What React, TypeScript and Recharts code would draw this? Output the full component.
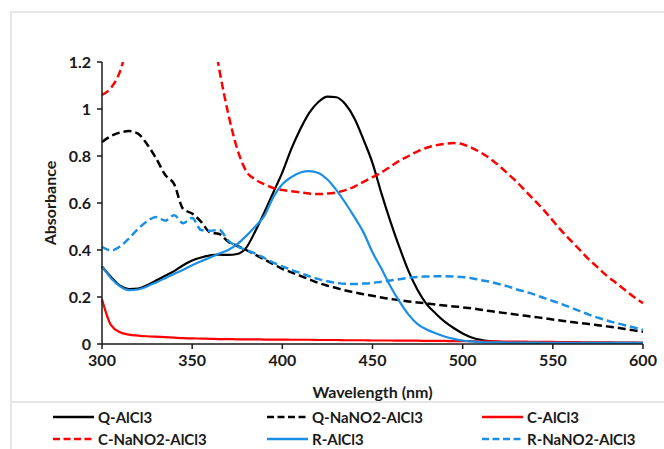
import React from "react";
import { LineChart, Line, XAxis, YAxis, Label } from "recharts";

// wavelength grid (nm), every 5 nm
const wavelengths = [
  300, 305, 310, 315, 320, 325, 330, 335, 340, 345, 350, 355, 360, 365, 370, 375, 380, 385, 390, 395,
  400, 405, 410, 415, 420, 425, 430, 435, 440, 445, 450, 455, 460, 465, 470, 475, 480, 485, 490, 495,
  500, 505, 510, 515, 520, 525, 530, 535, 540, 545, 550, 555, 560, 565, 570, 575, 580, 585, 590, 595, 600,
];

const qAlCl3 = [
  0.33, 0.285, 0.248, 0.234, 0.236, 0.25, 0.27, 0.29, 0.31, 0.335, 0.355, 0.368, 0.377, 0.38, 0.379, 0.383, 0.41, 0.48, 0.56, 0.645,
  0.73, 0.83, 0.915, 0.985, 1.03, 1.053, 1.05, 1.02, 0.96, 0.87, 0.77, 0.64, 0.52, 0.41, 0.31, 0.23, 0.17, 0.13, 0.095, 0.068,
  0.045, 0.028, 0.018, 0.012, 0.008, 0.007, 0.006, 0.006, 0.006, 0.005, 0.005, 0.005, 0.005, 0.005, 0.005, 0.005, 0.005, 0.005, 0.005, 0.005, 0.005,
];

const qNaNO2AlCl3 = [
  0.86, 0.885, 0.9, 0.906, 0.895, 0.85, 0.79, 0.72, 0.68, 0.575, 0.555, 0.52, 0.474, 0.468, 0.435, 0.418, 0.4, 0.38, 0.36, 0.34,
  0.32, 0.305, 0.29, 0.275, 0.26, 0.248, 0.238, 0.228, 0.22, 0.212, 0.205, 0.198, 0.192, 0.186, 0.181, 0.177, 0.173, 0.168, 0.164, 0.16,
  0.156, 0.152, 0.146, 0.14, 0.135, 0.13, 0.125, 0.12, 0.115, 0.11, 0.104, 0.099, 0.094, 0.089, 0.085, 0.08, 0.075, 0.07, 0.064, 0.058, 0.052,
];

const cAlCl3 = [
  0.19, 0.08, 0.05, 0.04, 0.036, 0.033, 0.031, 0.029, 0.027, 0.025, 0.024, 0.023, 0.022, 0.021, 0.021, 0.02, 0.02, 0.02, 0.019, 0.019,
  0.019, 0.018, 0.018, 0.018, 0.017, 0.017, 0.017, 0.016, 0.016, 0.016, 0.015, 0.015, 0.015, 0.014, 0.014, 0.014, 0.013, 0.013, 0.013, 0.012,
  0.012, 0.012, 0.011, 0.011, 0.011, 0.01, 0.01, 0.01, 0.009, 0.009, 0.009, 0.008, 0.008, 0.008, 0.007, 0.007, 0.007, 0.006, 0.006, 0.006, 0.005,
];

const cNaNO2AlCl3 = [
  1.06, 1.09, 1.16, 1.3, 1.45, 1.58, 1.68, 1.74, 1.76, 1.74, 1.68, 1.56, 1.4, 1.17, 0.98, 0.83, 0.735, 0.7, 0.68, 0.664,
  0.655, 0.65, 0.645, 0.64, 0.638, 0.64, 0.645, 0.655, 0.67, 0.69, 0.71, 0.73, 0.755, 0.78, 0.8, 0.82, 0.835, 0.845, 0.852, 0.855,
  0.85, 0.835, 0.815, 0.79, 0.76, 0.725, 0.69, 0.65, 0.61, 0.57, 0.525, 0.48, 0.44, 0.4, 0.36, 0.325, 0.29, 0.26, 0.23, 0.2, 0.174,
];

const rAlCl3 = [
  0.33, 0.28, 0.245, 0.229, 0.232, 0.245, 0.262, 0.28, 0.298, 0.316, 0.335, 0.352, 0.368, 0.385, 0.4, 0.425, 0.46, 0.5, 0.545, 0.625,
  0.68, 0.71, 0.73, 0.736, 0.728, 0.7, 0.655, 0.6, 0.54, 0.475, 0.39, 0.32, 0.245, 0.18, 0.125, 0.085, 0.062, 0.046, 0.032, 0.022,
  0.015, 0.011, 0.008, 0.007, 0.007, 0.006, 0.006, 0.006, 0.006, 0.005, 0.005, 0.005, 0.005, 0.005, 0.005, 0.005, 0.005, 0.005, 0.005, 0.005, 0.005,
];

const rNaNO2AlCl3 = [
  0.414, 0.398, 0.415, 0.45, 0.49, 0.522, 0.54, 0.525, 0.548, 0.514, 0.536, 0.485, 0.482, 0.485, 0.44, 0.415, 0.4, 0.385, 0.366, 0.346,
  0.33, 0.315, 0.302, 0.288, 0.276, 0.267, 0.26, 0.256, 0.255, 0.257, 0.26, 0.265, 0.27, 0.276, 0.281, 0.285, 0.287, 0.288, 0.288, 0.287,
  0.285, 0.28, 0.272, 0.265, 0.255, 0.245, 0.232, 0.222, 0.21, 0.196, 0.183, 0.17, 0.155, 0.14, 0.125, 0.112, 0.1, 0.09, 0.08, 0.07, 0.06,
];

const xTicks = [300, 350, 400, 450, 500, 550, 600];
const yTicks = [0, 0.2, 0.4, 0.6, 0.8, 1, 1.2];

const BLUE = "#1a8fe3";
const RED = "#ff0000";
const BLACK = "#000000";

const series = [
  { key: "qAlCl3", name: "Q-AlCl3", color: BLACK, dashed: false },
  { key: "qNaNO2AlCl3", name: "Q-NaNO2-AlCl3", color: BLACK, dashed: true },
  { key: "cAlCl3", name: "C-AlCl3", color: RED, dashed: false },
  { key: "cNaNO2AlCl3", name: "C-NaNO2-AlCl3", color: RED, dashed: true },
  { key: "rAlCl3", name: "R-AlCl3", color: BLUE, dashed: false },
  { key: "rNaNO2AlCl3", name: "R-NaNO2-AlCl3", color: BLUE, dashed: true },
];

const data = wavelengths.map((wl, i) => ({
  wl,
  qAlCl3: qAlCl3[i],
  qNaNO2AlCl3: qNaNO2AlCl3[i],
  cAlCl3: cAlCl3[i],
  cNaNO2AlCl3: cNaNO2AlCl3[i],
  rAlCl3: rAlCl3[i],
  rNaNO2AlCl3: rNaNO2AlCl3[i],
}));

const FONT = "Lato, 'Open Sans', sans-serif";
const TEXT = "#1a1a1a";
const tickStyle = { fill: TEXT, fontSize: 16, fontWeight: 700, fontFamily: FONT };
const labelStyle = { fill: TEXT, fontSize: 16, fontWeight: 700, fontFamily: FONT };
const legendCols = [53, 267, 482];

export default function App() {
  return (
    <div style={{ position: "absolute", left: 0, top: 0, width: 664, height: 449, overflow: "hidden", background: "#fff", fontFamily: FONT }}>
      {/* outer frame */}
      <div style={{ position: "absolute", left: 10, top: 11, width: 700, height: 500, borderLeft: "2px solid #e6e6e6", borderTop: "2px solid #e6e6e6" }} />
      <div style={{ position: "absolute", left: 10, top: 401, width: 700, borderTop: "2px solid #e6e6e6" }} />

      <div style={{ position: "absolute", left: 0, top: 0 }}>
        <LineChart width={664} height={402} data={data} margin={{ top: 62, right: 21, bottom: 0, left: 0 }}>
          <XAxis
            dataKey="wl"
            type="number"
            domain={[300, 600]}
            ticks={xTicks}
            tick={tickStyle}
            tickSize={5}
            tickMargin={6}
            height={58}
            axisLine={{ stroke: TEXT, strokeWidth: 1.5 }}
            tickLine={{ stroke: TEXT, strokeWidth: 1.5 }}
          >
            <Label value="Wavelength (nm)" position="insideBottom" offset={4} style={labelStyle} />
          </XAxis>
          <YAxis
            type="number"
            domain={[0, 1.2]}
            allowDataOverflow
            ticks={yTicks}
            tick={tickStyle}
            tickSize={5}
            tickMargin={6}
            width={102}
            axisLine={{ stroke: TEXT, strokeWidth: 1.5 }}
            tickLine={{ stroke: TEXT, strokeWidth: 1.5 }}
          >
            <Label value="Absorbance" angle={-90} position="insideLeft" offset={50} style={{ ...labelStyle, textAnchor: "middle" }} />
          </YAxis>
          {series.map((s) => (
            <Line
              key={s.key}
              dataKey={s.key}
              name={s.name}
              type="monotone"
              stroke={s.color}
              strokeWidth={s.dashed ? 2.5 : 2.2}
              strokeDasharray={s.dashed ? "8 4" : undefined}
              dot={false}
              activeDot={false}
              isAnimationActive={false}
            />
          ))}
        </LineChart>
      </div>

      {/* legend */}
      {series.map((s, i) => {
        const row = Math.floor(i / 3);
        const col = i % 3;
        const top = row === 0 ? 417 : 439;
        return (
          <div key={s.key} style={{ position: "absolute", left: legendCols[col], top: top - 10, height: 20, display: "flex", alignItems: "center" }}>
            <svg width={41} height={6} style={{ marginRight: 4 }}>
              <line x1={0} y1={3} x2={41} y2={3} stroke={s.color} strokeWidth={2.5} strokeDasharray={s.dashed ? "7 3.5" : undefined} />
            </svg>
            <span style={{ fontSize: 15, fontWeight: 700, color: TEXT, whiteSpace: "nowrap", lineHeight: "18px" }}>{s.name}</span>
          </div>
        );
      })}
    </div>
  );
}
